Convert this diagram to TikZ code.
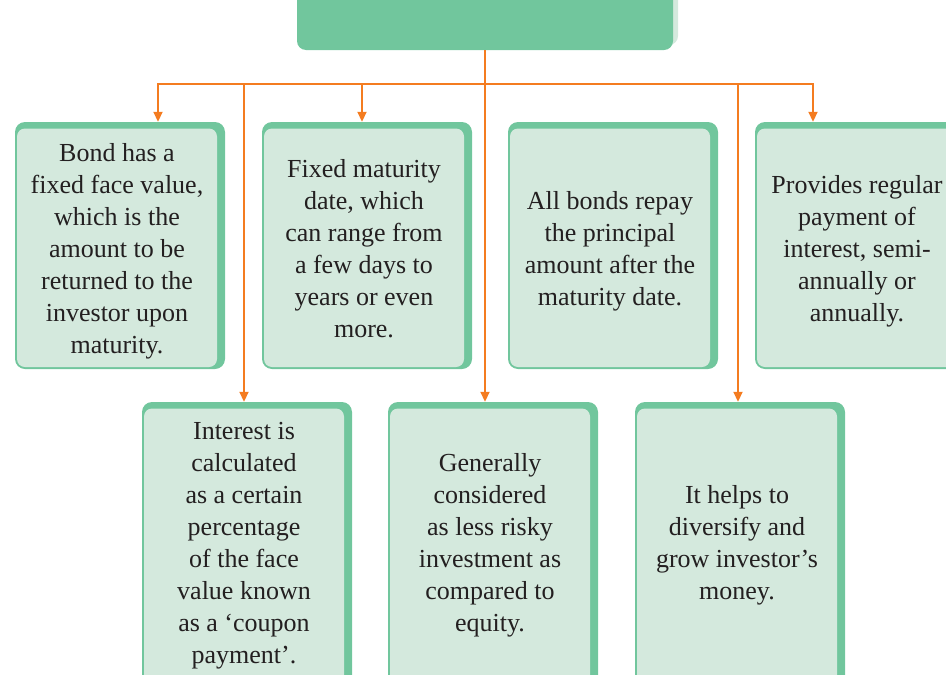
\documentclass[tikz,border=0pt]{standalone}
\usepackage{fontspec}
\setmainfont{Liberation Serif}
\usetikzlibrary{shadows,arrows.meta}

\definecolor{cardgreen}{HTML}{71C69D}
\definecolor{cardfill}{HTML}{D4E9DD}
\definecolor{linkorange}{HTML}{F47C20}
\definecolor{ink}{HTML}{231F20}

% centred lines, set slightly left of the card centre (the rim is wider on the right)
\newcommand\cardlines[1]{\begin{tabular}{@{}c@{\hspace{6pt}}}#1\end{tabular}}
\newcommand\toplines[1]{\begin{tabular}{@{}c@{\hspace{6pt}}}\rule{0pt}{34pt}#1\end{tabular}}

\tikzset{
  % a green card whose pale face leaves a thick rim at the top and right
  card/.style={fill=cardgreen, rounded corners=10pt,
    inner sep=0pt, text=ink, font=\fontsize{26}{32}\selectfont,
    minimum width=210pt,
    path picture={\fill[cardfill, rounded corners=8pt]
      ([xshift=2pt,yshift=-6.5pt]path picture bounding box.north west) rectangle
      ([xshift=-8pt,yshift=2pt]path picture bounding box.south east);}},
  toprow/.style={card, minimum height=247pt},
  botrow/.style={card, minimum height=287pt},
  header/.style={fill=cardgreen, rounded corners=9pt, inner sep=0pt,
    minimum width=376pt, minimum height=80pt,
    general shadow={fill=cardfill, shadow xshift=5pt, shadow yshift=5pt}},
  link/.style={draw=linkorange, line width=1.8pt},
  arr/.style={link, -{Triangle[width=9pt,length=10pt]}}
}

\begin{document}
\begin{tikzpicture}[x=1pt, y=-1pt]
  \useasboundingbox (0,0) rectangle (946,675);
  \clip (0,0) rectangle (946,675);

  % header bar
  \node[header] (root) at (485,10) {};

  % upper row of cards
  \node[toprow] (b1) at (120,245.5) {\toplines{Bond has a\\fixed face value,\\which is the\\amount to be\\returned to the\\investor upon\\maturity.}};
  \node[toprow] (b2) at (367,245.5) {\toplines{Fixed maturity\\date, which\\can range from\\a few days to\\years or even\\more.}};
  \node[toprow] (b3) at (613,245.5) {\toplines{All bonds repay\\the principal\\amount after the\\maturity date.}};
  \node[toprow] (b4) at (860,245.5) {\toplines{Provides regular\\payment of\\interest, semi-\\annually or\\annually.}};

  % lower row of cards
  \node[botrow] (b5) at (247,545.5) {\cardlines{Interest is\\calculated\\as a certain\\percentage\\of the face\\value known\\as a ‘coupon\\payment’.}};
  \node[botrow] (b6) at (493,545.5) {\cardlines{Generally\\considered\\as less risky\\investment as\\compared to\\equity.}};
  \node[botrow] (b7) at (740,545.5) {\cardlines{It helps to\\diversify and\\grow investor’s\\money.}};

  % branch points on the bus
  \coordinate (trunk) at (485,84);
  \coordinate (br1) at (158,84);
  \coordinate (br2) at (244,84);
  \coordinate (br3) at (362,84);
  \coordinate (br6) at (738,84);
  \coordinate (br7) at (813,84);

  % connectors
  \draw[arr] (root.south) -- (b6.north -| root.south);
  \draw[arr] (trunk) -| (b1.north -| br1);
  \draw[arr] (trunk) -| (b4.north -| br7);
  \draw[arr] (br2) -- (b5.north -| br2);
  \draw[arr] (br3) -- (b2.north -| br3);
  \draw[arr] (br6) -- (b7.north -| br6);
\end{tikzpicture}
\end{document}
